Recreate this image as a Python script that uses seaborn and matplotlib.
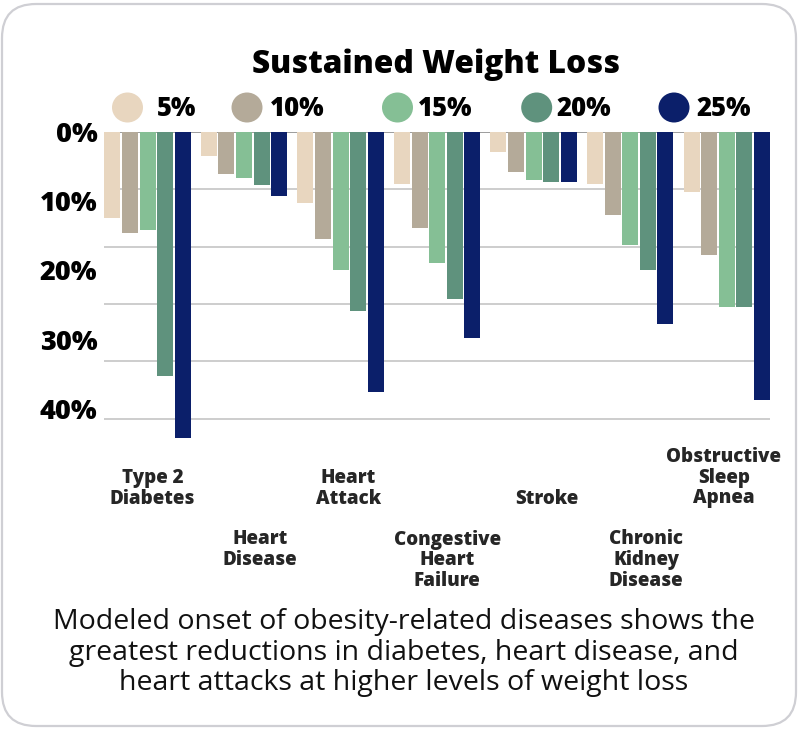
import numpy as np
import pandas as pd
import matplotlib
matplotlib.use("Agg")
import matplotlib.pyplot as plt
import matplotlib.transforms as mtransforms
from matplotlib.patches import FancyBboxPatch, Ellipse
import seaborn as sns

# ---------------- data ----------------
diseases = ["Type 2\nDiabetes", "Heart\nDisease", "Heart\nAttack",
            "Congestive\nHeart\nFailure", "Stroke",
            "Chronic\nKidney\nDisease", "Obstructive\nSleep\nApnea"]
loss_levels = ["5%", "10%", "15%", "20%", "25%"]
onset_5 = [12.5, 3.4, 10.3, 7.5, 2.9, 7.5, 8.6]
onset_10 = [14.6, 6.0, 15.4, 13.9, 5.8, 12.0, 17.8]
onset_15 = [14.2, 6.7, 20.0, 19.0, 7.0, 16.4, 25.3]
onset_20 = [35.3, 7.7, 25.8, 24.1, 7.2, 20.0, 25.3]
onset_25 = [44.2, 9.2, 37.6, 29.7, 7.2, 27.8, 38.7]
ytick_values = [0, 10, 20, 30, 40]
ytick_labels = ["0%", "10%", "20%", "30%", "40%"]
title_text = "Sustained Weight Loss"
caption_text = ("Modeled onset of obesity-related diseases shows the\n"
                "greatest reductions in diabetes, heart disease, and\n"
                "heart attacks at higher levels of weight loss")

colors = ["#E8D6BF", "#B4AA99", "#85BF95", "#5F927D", "#0B1F6A"]

series = [onset_5, onset_10, onset_15, onset_20, onset_25]
df = pd.DataFrame({
    "disease": np.tile(diseases, len(loss_levels)),
    "loss": np.repeat(loss_levels, len(diseases)),
    "onset": np.concatenate(series),
})

# ---------------- style ----------------
sns.set_theme(style="white")
plt.rcParams["font.family"] = ["Open Sans", "DejaVu Sans"]
HEAVY = 800

W, H = 799, 730
fig = plt.figure(figsize=(W / 100, H / 100), dpi=100)
fig.patch.set_facecolor("white")

# background axes in pixel coordinates
bg = fig.add_axes([0, 0, 1, 1], zorder=0)
bg.set_xlim(0, W)
bg.set_ylim(H, 0)
bg.axis("off")
bg.add_patch(FancyBboxPatch((2, 4), 794, 722,
                            boxstyle="round,pad=0,rounding_size=34",
                            fc="white", ec="#cfcfd4", lw=1.6))

# main axes
PX = 6.92          # pixels per percentage point
y_top = 132.0
y_max = 46.0
ax_left, ax_right = 104.3, 770.0
ax_bottom_px = y_top + y_max * PX
ax = fig.add_axes([ax_left / W, 1 - ax_bottom_px / H,
                   (ax_right - ax_left) / W, (ax_bottom_px - y_top) / H],
                  zorder=1)
ax.patch.set_alpha(0)

sns.barplot(data=df, x="disease", y="onset", hue="loss",
            order=diseases, hue_order=loss_levels, palette=colors,
            width=0.912, gap=0.09, saturation=1, errorbar=None,
            legend=False, ax=ax, zorder=3, edgecolor="none", linewidth=0)

x_half = 0.4478
ax.set_xlim(-x_half, len(diseases) - 1 + x_half)
ax.set_ylim(y_max, 0)

grid_step = 57.33 / PX
for k in range(1, 6):
    ax.axhline(k * grid_step, color="#cdcdcd", lw=1.4, zorder=1)
ax.axhline(0, color="#9c9c9c", lw=1.4, zorder=2)

for s in ax.spines.values():
    s.set_visible(False)
ax.set_xlabel("")
ax.set_ylabel("")
ax.set_yticks(ytick_values)
ax.set_yticklabels(ytick_labels, fontsize=19.5, fontweight=HEAVY, color="black")
ax.tick_params(axis="y", length=0, pad=5)
ax.tick_params(axis="x", length=0, labelbottom=False)

# category labels, staggered
px_per_unit = (ax_right - ax_left) / (len(diseases) - 1 + 2 * x_half)
label_dx_px = [5, 16, 8, 10, 13, 16, -3]
blend = mtransforms.blended_transform_factory(ax.transData, bg.transData)
for i, name in enumerate(diseases):
    x = i + label_dx_px[i] / px_per_unit
    if i % 2 == 0:
        # bottom-aligned row: last baseline at ~503
        ax.text(x, 503.5, name, transform=blend, ha="center", va="baseline",
                multialignment="center", fontsize=13.5, fontweight=HEAVY,
                linespacing=1.06, clip_on=False)
    else:
        # top-aligned row: first baseline at ~543
        ax.text(x, 529.5, name, transform=blend, ha="center", va="top",
                multialignment="center", fontsize=13.5, fontweight=HEAVY,
                linespacing=1.06, clip_on=False)

# title
bg.text(436.5, 72.7, title_text, ha="center", va="baseline",
        fontsize=22.8, fontweight=HEAVY, color="black")

# legend
leg_cx = [127.5, 247.0, 397.5, 536.7, 674.0]
leg_tx = [156.7, 270.0, 418.3, 556.7, 696.0]
for c, cx, tx, lab in zip(colors, leg_cx, leg_tx, loss_levels):
    bg.add_patch(Ellipse((cx, 107.5), 31, 30, fc=c, ec="none"))
    bg.text(tx, 115.7, lab, ha="left", va="baseline", fontsize=18.5,
            fontweight=HEAVY, color="black")

# caption
bg.text(404, 608.5, caption_text, ha="center", va="top",
        multialignment="center", fontsize=20.5, color="#111111",
        linespacing=1.115)

fig.savefig("out.png", dpi=100, facecolor="white")
